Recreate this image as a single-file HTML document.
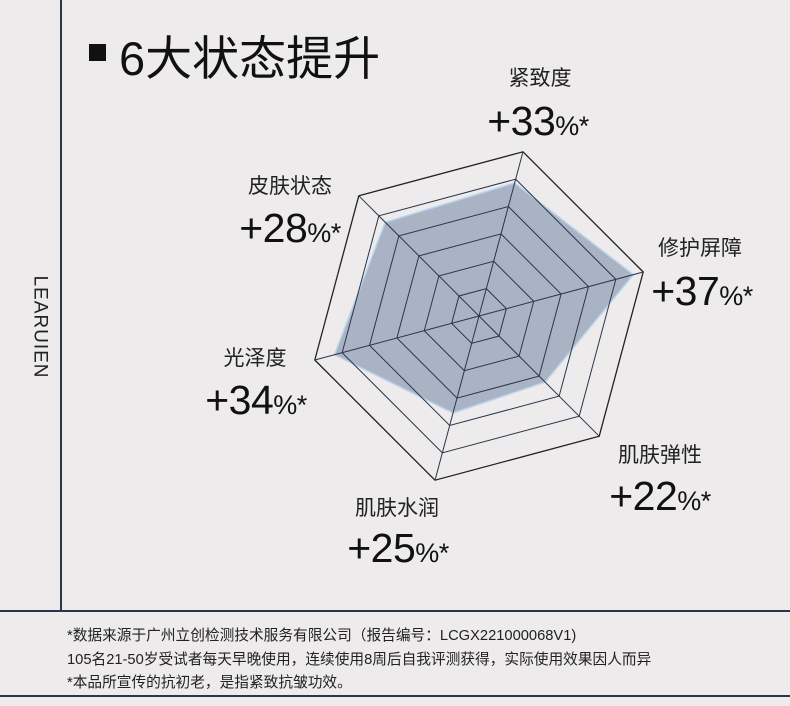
<!DOCTYPE html>
<html><head><meta charset="utf-8"><style>
body{margin:0;width:790px;height:706px;background:#edebec;position:relative;overflow:hidden;font-family:"Liberation Sans","Noto Sans CJK SC",sans-serif;color:#111}
.t{position:absolute;white-space:nowrap}
.lab{font-size:21px;color:#222;text-align:center;width:140px}
.num{font-size:41px;text-align:center;width:160px;letter-spacing:-0.5px}
.num small{font-size:27px}
.foot{position:absolute;left:67px;font-size:14.7px;color:#222;white-space:nowrap}
</style></head><body>
<div style="position:absolute;left:60px;top:0;width:2px;height:611px;background:#2d3450"></div>
<div style="position:absolute;left:0;top:610px;width:790px;height:2px;background:#2d3450"></div>
<div style="position:absolute;left:0;top:695px;width:790px;height:2px;background:#2d3450"></div>
<div class="t" style="left:89px;top:44px;width:17px;height:17px;background:#111"></div>
<div class="t" style="left:119px;top:20px;font-size:47px;">6大状态提升</div>
<div class="t" style="left:-12px;top:316px;font-size:19px;transform:rotate(90deg);letter-spacing:1px;color:#222">LEARUIEN</div>
<svg width="790" height="706" style="position:absolute;left:0;top:0" id="s"></svg>
<div class="t lab" style="left:470px;top:62px">紧致度</div>
<div class="t num" style="left:458px;top:98px">+33<small>%*</small></div>
<div class="t lab" style="left:220px;top:170px">皮肤状态</div>
<div class="t num" style="left:210px;top:205px">+28<small>%*</small></div>
<div class="t lab" style="left:630px;top:232px">修护屏障</div>
<div class="t num" style="left:622px;top:268px">+37<small>%*</small></div>
<div class="t lab" style="left:185px;top:342px">光泽度</div>
<div class="t num" style="left:176px;top:377px">+34<small>%*</small></div>
<div class="t lab" style="left:590px;top:439px">肌肤弹性</div>
<div class="t num" style="left:580px;top:473px">+22<small>%*</small></div>
<div class="t lab" style="left:327px;top:492px">肌肤水润</div>
<div class="t num" style="left:318px;top:525px">+25<small>%*</small></div>
<div class="foot" style="top:624px">*数据来源于广州立创检测技术服务有限公司（报告编号：LCGX221000068V1)</div>
<div class="foot" style="top:648px">105名21-50岁受试者每天早晚使用，连续使用8周后自我评测获得，实际使用效果因人而异</div>
<div class="foot" style="top:671px">*本品所宣传的抗初老，是指紧致抗皱功效。</div>
<script>
var cx=479,cy=316,R=170,s=document.getElementById('s'),h='';
var ang=[-75,-15,45,105,165,225].map(a=>a*Math.PI/180);
function pt(i,r){return [cx+r*Math.cos(ang[i]),cy+r*Math.sin(ang[i])];}
var d=[0.81,0.94,0.55,0.59,0.88,0.78];
h+='<polygon points="'+d.map((v,i)=>pt(i,v*R).join(',')).join(' ')+'" fill="#a9b3c3" stroke="#b8d4ea" stroke-width="1.5"/>';
for(var k=1;k<=5;k++){h+='<polygon points="'+[0,1,2,3,4,5].map(i=>pt(i,R*k/6).join(',')).join(' ')+'" fill="none" stroke="#2b3548" stroke-width="1"/>';}
h+='<polygon points="'+[0,1,2,3,4,5].map(i=>pt(i,R).join(',')).join(' ')+'" fill="none" stroke="#222" stroke-width="1.3"/>';
for(var i=0;i<6;i++){var p=pt(i,R);h+='<line x1="'+cx+'" y1="'+cy+'" x2="'+p[0]+'" y2="'+p[1]+'" stroke="#2b3548" stroke-width="1"/>';}
s.innerHTML=h;
</script>
</body></html>
